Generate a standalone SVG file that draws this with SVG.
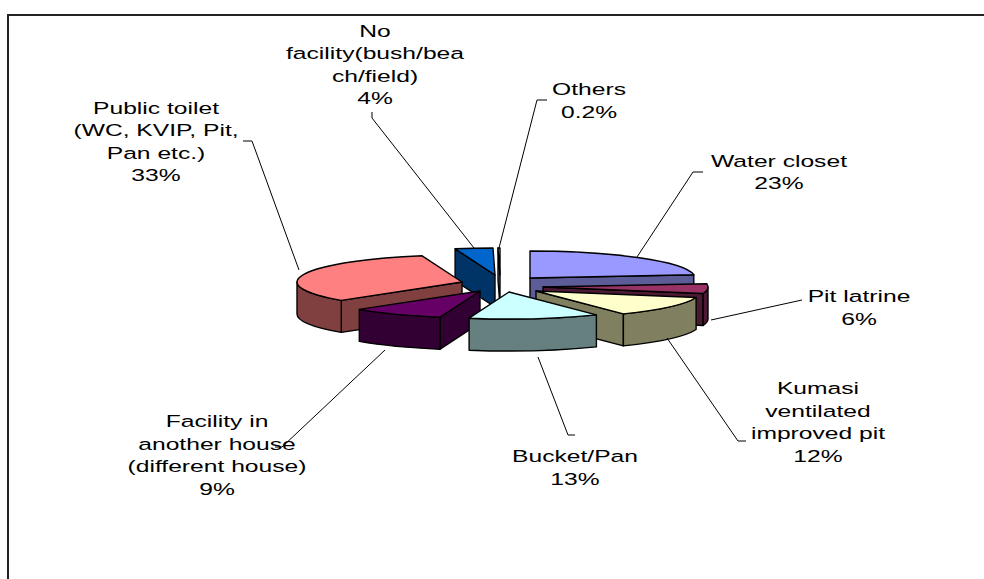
<svg xmlns="http://www.w3.org/2000/svg" width="984" height="579" viewBox="0 0 984 579">
<style>
.s{stroke:#000;stroke-width:1.4;stroke-linejoin:round}
.lbl{font-family:"Liberation Sans",Arial,sans-serif;font-size:17px;fill:#000;text-anchor:middle}
.ld{fill:none;stroke:#000;stroke-width:1}
</style>
<rect width="984" height="579" fill="#fff"/>
<path d="M8,579 V15 H984" fill="none" stroke="#222" stroke-width="2"/>

<g id="slice-no-facility">
<polygon class="s" points="495,275 455.1,248.8 455.1,280.8 495,307" fill="#003366"/>
<path class="s" d="M495,275 L455.1,248.8 A165,27 0 0 1 493,248 Z" fill="#0066cc"/>
</g>
<g id="slice-others">
<polygon class="s" points="500,275 498,248 498,280 500,307" fill="#666680"/>
<path class="s" d="M500,275 L498,248 L500,248 Z" fill="#ccccff"/>
</g>
<g id="slice-public-toilet">
<polygon class="s" points="462,282 341.3,300.4 341.3,332.4 462,314" fill="#804040"/>
<path class="s" d="M341.3,300.4 A165,27 0 0 1 297,282 V314 A165,27 0 0 0 341.3,332.4 Z" fill="#804040"/>
<path class="s" d="M462,282 L341.3,300.4 A165,27 0 0 1 422.1,255.8 Z" fill="#ff8080"/>
</g>
<g id="slice-water-closet">
<polygon class="s" points="530,278 693.8,274.7 693.8,306.7 530,310" fill="#5c5c99"/>
<path class="s" d="M530,278 L530,251 A165,27 0 0 1 693.8,274.7 Z" fill="#9999ff"/>
</g>
<g id="slice-pit-latrine">
<polygon class="s" points="543,287 703.1,293.5 703.1,325.5 543,319" fill="#4d1a33"/>
<path class="s" d="M708,287 A165,27 0 0 1 703.1,293.5 V325.5 A165,27 0 0 0 708,319 Z" fill="#4d1a33"/>
<path class="s" d="M543,287 L706.8,283.7 A165,27 0 0 1 703.1,293.5 Z" fill="#993366"/>
</g>
<g id="slice-another-house">
<polygon class="s" points="480,291 440.1,317.2 440.1,349.2 480,323" fill="#330033"/>
<path class="s" d="M440.1,317.2 A165,27 0 0 1 359.3,309.4 V341.4 A165,27 0 0 0 440.1,349.2 Z" fill="#330033"/>
<path class="s" d="M480,291 L440.1,317.2 A165,27 0 0 1 359.3,309.4 Z" fill="#660066"/>
</g>
<g id="slice-kvip">
<polygon class="s" points="536,291 623.4,313.9 623.4,345.9 536,323" fill="#808060"/>
<path class="s" d="M696.1,297.5 A165,27 0 0 1 623.4,313.9 V345.9 A165,27 0 0 0 696.1,329.5 Z" fill="#808060"/>
<path class="s" d="M536,291 L696.1,297.5 A165,27 0 0 1 623.4,313.9 Z" fill="#ffffcc"/>
</g>
<g id="slice-bucket">
<path class="s" d="M596.4,314.9 A165,27 0 0 1 469.1,318.2 V350.2 A165,27 0 0 0 596.4,346.9 Z" fill="#668080"/>
<path class="s" d="M509,292 L596.4,314.9 A165,27 0 0 1 469.1,318.2 Z" fill="#ccffff"/>
</g>

<g id="connectors">
<path class="ld" d="M243,141 H252 L299,270"/>
<path class="ld" d="M372,112 V118 L474,248"/>
<path class="ld" d="M547,100 H537 L499,248"/>
<path class="ld" d="M703,172 H693 L637,257"/>
<path class="ld" d="M711,320 L802,300"/>
<path class="ld" d="M667,338 L738,441 H746"/>
<path class="ld" d="M538,357 L568,435 H575"/>
<path class="ld" d="M385,350 L282,447 H275"/>
</g>

<g id="label-public-toilet" transform="translate(156,0) scale(1.45,1)">
<text class="lbl" x="0" y="114">Public toilet</text>
<text class="lbl" x="0" y="136.5">(WC, KVIP, Pit,</text>
<text class="lbl" x="0" y="159">Pan etc.)</text>
<text class="lbl" x="0" y="181.5">33%</text>
</g>
<g id="label-no-facility" transform="translate(375,0) scale(1.45,1)">
<text class="lbl" x="0" y="36.7">No</text>
<text class="lbl" x="0" y="59.2">facility(bush/bea</text>
<text class="lbl" x="0" y="81.8">ch/field)</text>
<text class="lbl" x="0" y="104.3">4%</text>
</g>
<g id="label-others" transform="translate(589,0) scale(1.45,1)">
<text class="lbl" x="0" y="95">Others</text>
<text class="lbl" x="0" y="117.7">0.2%</text>
</g>
<g id="label-water-closet" transform="translate(779,0) scale(1.45,1)">
<text class="lbl" x="0" y="166.7">Water closet</text>
<text class="lbl" x="0" y="189.3">23%</text>
</g>
<g id="label-pit-latrine" transform="translate(859,0) scale(1.45,1)">
<text class="lbl" x="0" y="302.5">Pit latrine</text>
<text class="lbl" x="0" y="325">6%</text>
</g>
<g id="label-kvip" transform="translate(818,0) scale(1.45,1)">
<text class="lbl" x="0" y="394.5">Kumasi</text>
<text class="lbl" x="0" y="417">ventilated</text>
<text class="lbl" x="0" y="439.5">improved pit</text>
<text class="lbl" x="0" y="462">12%</text>
</g>
<g id="label-bucket" transform="translate(575,0) scale(1.45,1)">
<text class="lbl" x="0" y="462.5">Bucket/Pan</text>
<text class="lbl" x="0" y="485">13%</text>
</g>
<g id="label-another-house" transform="translate(217,0) scale(1.45,1)">
<text class="lbl" x="0" y="427.5">Facility in</text>
<text class="lbl" x="0" y="450">another house</text>
<text class="lbl" x="0" y="472.5">(different house)</text>
<text class="lbl" x="0" y="495">9%</text>
</g>
</svg>
